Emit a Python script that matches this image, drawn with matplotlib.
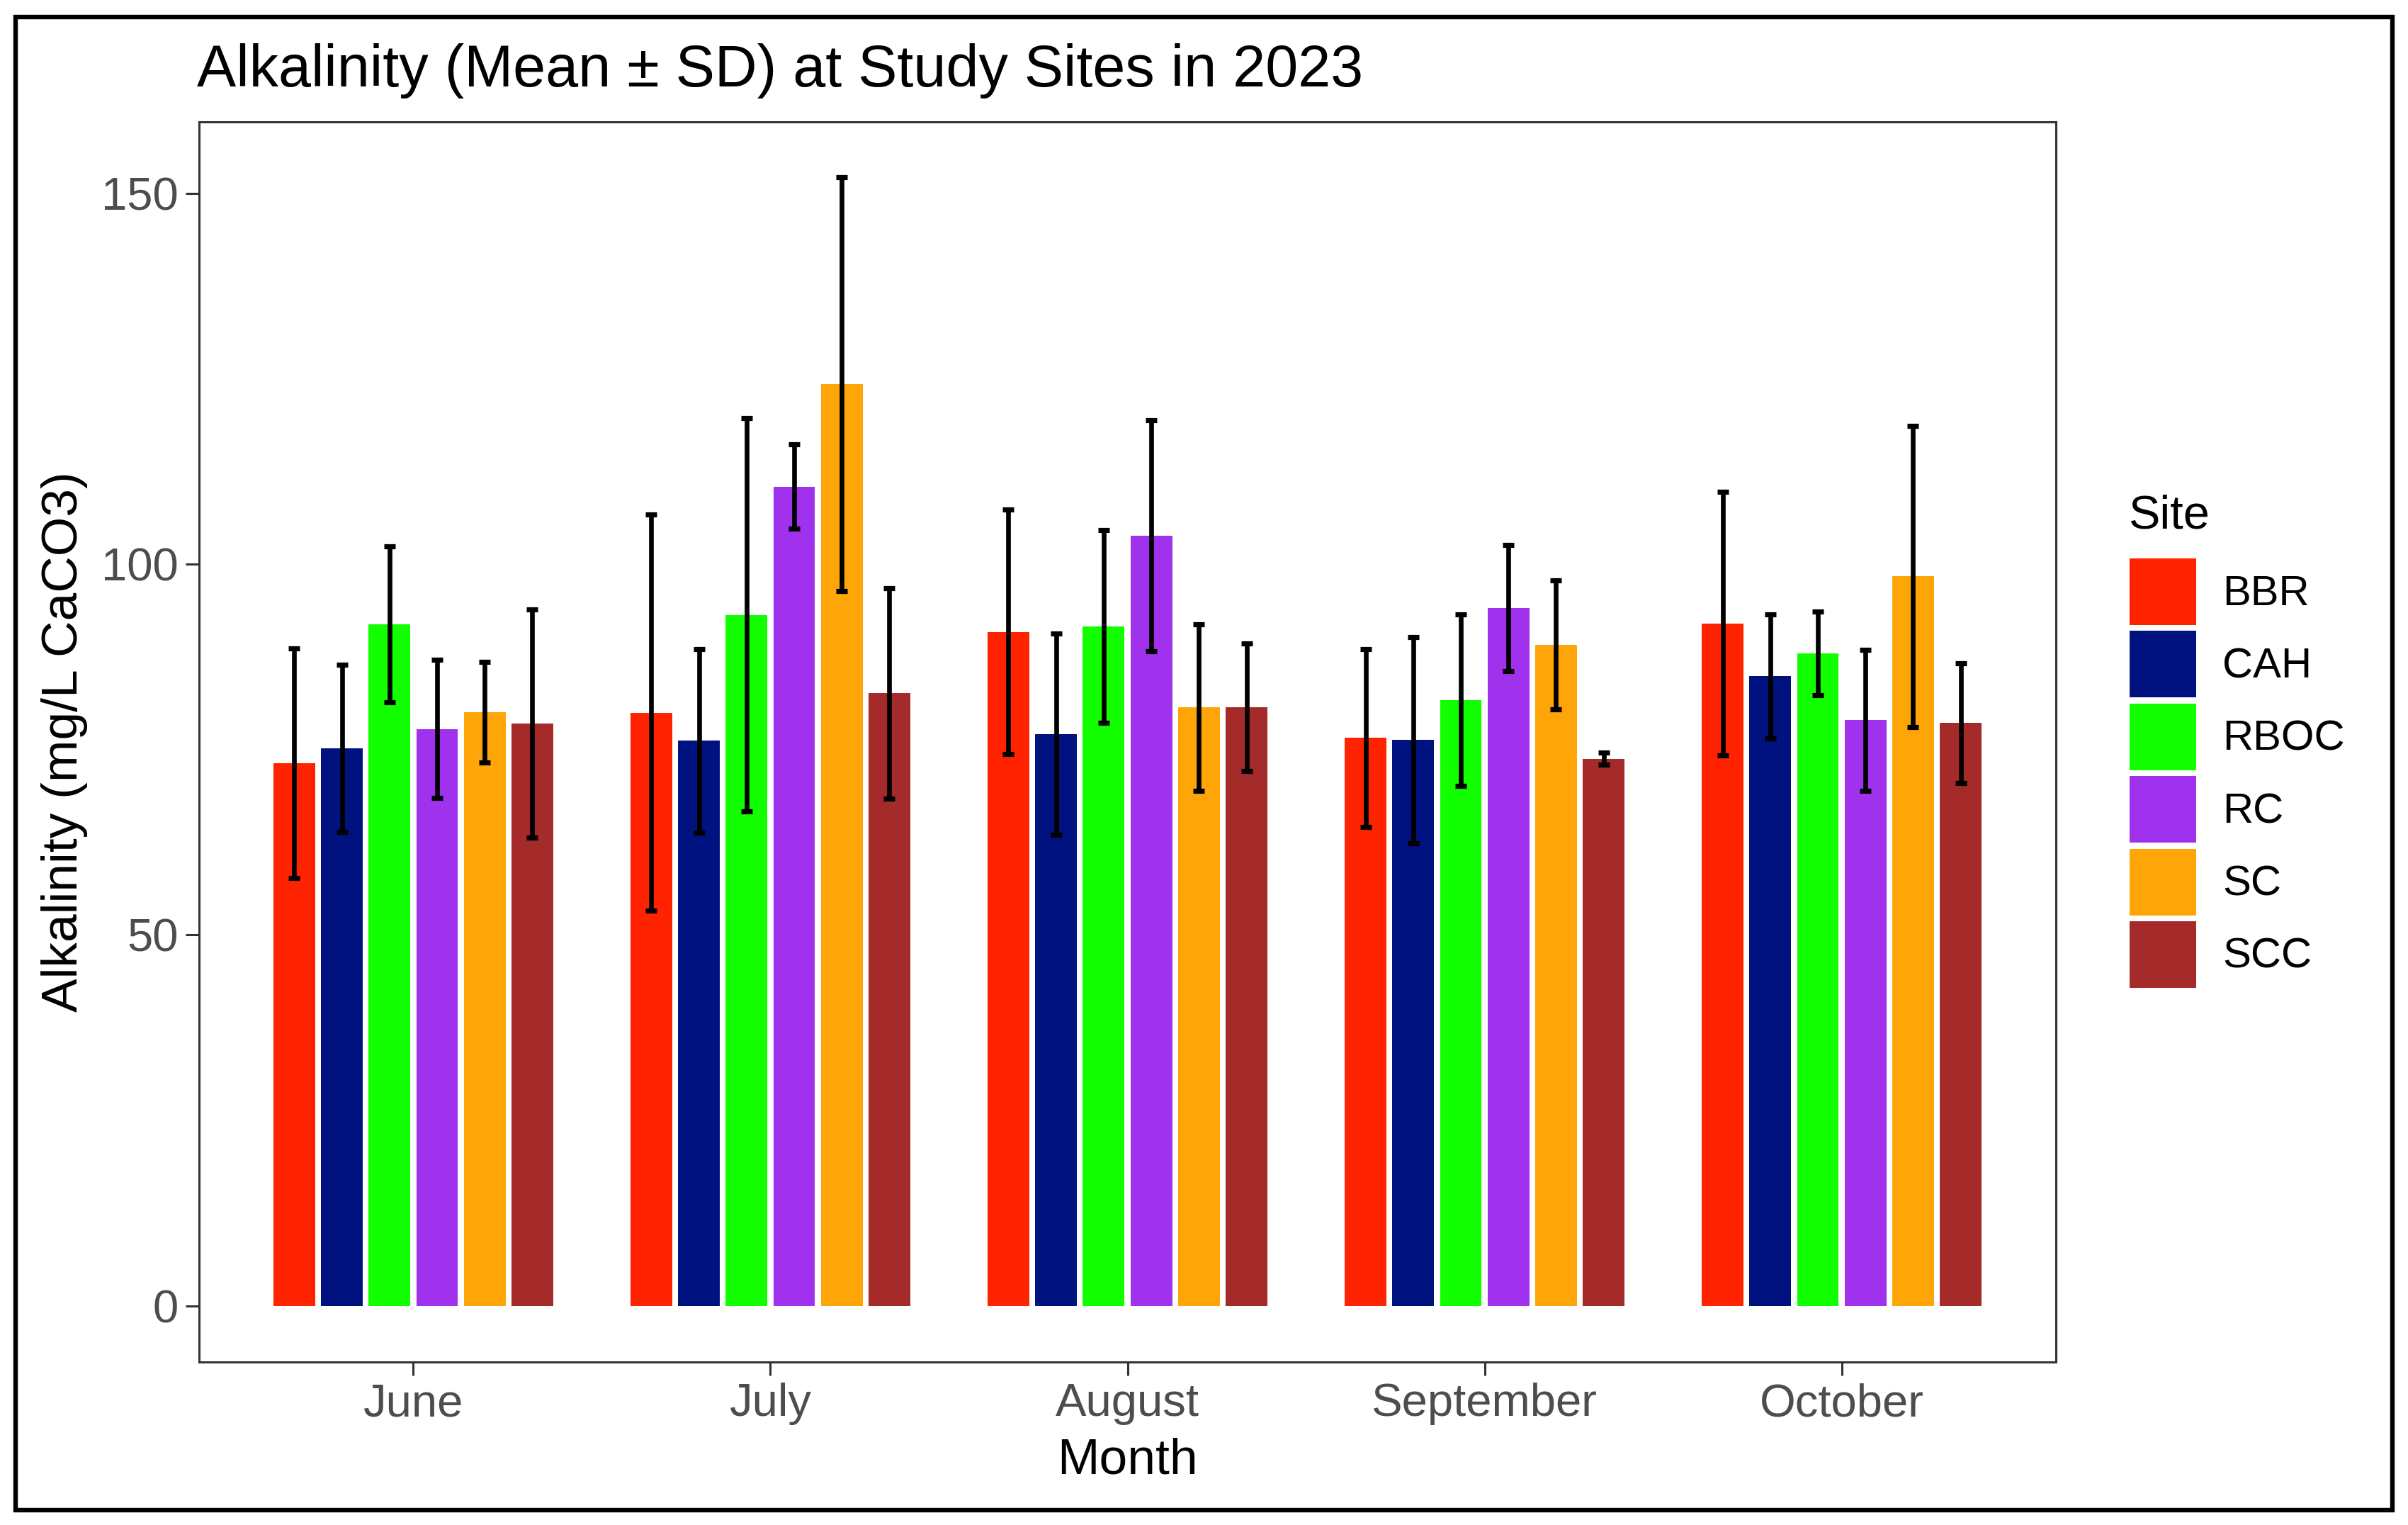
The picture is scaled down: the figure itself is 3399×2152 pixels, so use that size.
import numpy as np
import matplotlib
matplotlib.use("Agg")
import matplotlib.pyplot as plt
from matplotlib.patches import Rectangle, Patch

plt.rcParams['font.family'] = ['Liberation Sans', 'DejaVu Sans']

# data
months = ['June', 'July', 'August', 'September', 'October']
sites = ['BBR', 'CAH', 'RBOC', 'RC', 'SC', 'SCC']

mean_bbr = [73.2, 80.0, 90.9, 76.6, 92.0]
mean_cah = [75.2, 76.2, 77.1, 76.3, 84.9]
mean_rboc = [91.9, 93.2, 91.6, 81.7, 88.0]
mean_rc = [77.8, 110.5, 103.9, 94.1, 79.0]
mean_sc = [80.1, 124.3, 80.7, 89.1, 98.4]
mean_scc = [78.5, 82.6, 80.7, 73.8, 78.6]

sd_bbr = [15.5, 26.7, 16.5, 12.0, 17.8]
sd_cah = [11.3, 12.4, 13.6, 13.9, 8.4]
sd_rboc = [10.5, 26.5, 13.0, 11.6, 5.6]
sd_rc = [9.3, 5.7, 15.6, 8.5, 9.5]
sd_sc = [6.8, 27.9, 11.2, 8.7, 20.3]
sd_scc = [15.4, 14.2, 8.6, 0.8, 8.1]

site_colors = ['#FF2300', '#001280', '#12FF00', '#A032EE', '#FFA507', '#A52A2A']

means = [mean_bbr, mean_cah, mean_rboc, mean_rc, mean_sc, mean_scc]
sds = [sd_bbr, sd_cah, sd_rboc, sd_rc, sd_sc, sd_scc]

W, H, DPI = 3399, 2152, 200
fig = plt.figure(figsize=(W / DPI, H / DPI), dpi=DPI)
ax = fig.add_axes([281 / W, 1 - 1922 / H, (2902 - 281) / W, (1922 - 172) / H])

x = np.arange(1, len(months) + 1)
dodge = 0.8
n = len(sites)
pitch = dodge / n
bar_w = 0.7 / n

for i, (site, m, s, c) in enumerate(zip(sites, means, sds, site_colors)):
    xpos = x - dodge / 2 + pitch * (i + 0.5)
    ax.bar(xpos, m, width=bar_w, color=c, linewidth=0, label=site, zorder=2)
    ax.errorbar(xpos, m, yerr=s, fmt='none', ecolor='black', elinewidth=2.4,
                capsize=3, capthick=2.6, zorder=3)

ax.set_xlim(0.4, 5.6)
ax.set_ylim(-7.6, 159.7)
ax.set_xticks(x)
ax.set_xticklabels(months)
ax.set_yticks([0, 50, 100, 150])
ax.tick_params(axis='both', length=7, width=1.1, color='#333333',
               labelcolor='#4D4D4D', labelsize=23.5, pad=3.5)
for sp in ax.spines.values():
    sp.set_color('#333333')
    sp.set_linewidth(1.1)

fig.text(278 / W, 1 - 122 / H, 'Alkalinity (Mean \u00b1 SD) at Study Sites in 2023',
         fontsize=29.8, ha='left', va='baseline')
fig.text(1591 / W, 1 - 2080 / H, 'Month', fontsize=25.7, ha='center', va='baseline')
fig.text(91 / W, 1 - 1047 / H, 'Alkalinity (mg/L CaCO3)', fontsize=25.7,
         rotation=90, ha='center', va='center')

# legend: title as its own text, keys 94 px square
fig.text(3004 / W, 1 - 746 / H, 'Site', fontsize=24, ha='left', va='baseline')
handles = [Patch(facecolor=c, edgecolor='none') for c in site_colors]
fig.legend(handles, sites, loc='upper left',
           bbox_to_anchor=(3006 / W, 1 - 788 / H), frameon=False,
           fontsize=21.5, handlelength=1.574, handleheight=2.045,
           labelspacing=0.14, handletextpad=0.62, borderpad=0, borderaxespad=0)

fig.patches.append(Rectangle((22 / W, 1 - 2131 / H), 3355 / W, 2107 / H,
                             transform=fig.transFigure, fill=False,
                             edgecolor='black', linewidth=2.3))

fig.savefig('out.png', dpi=DPI, facecolor='white')
